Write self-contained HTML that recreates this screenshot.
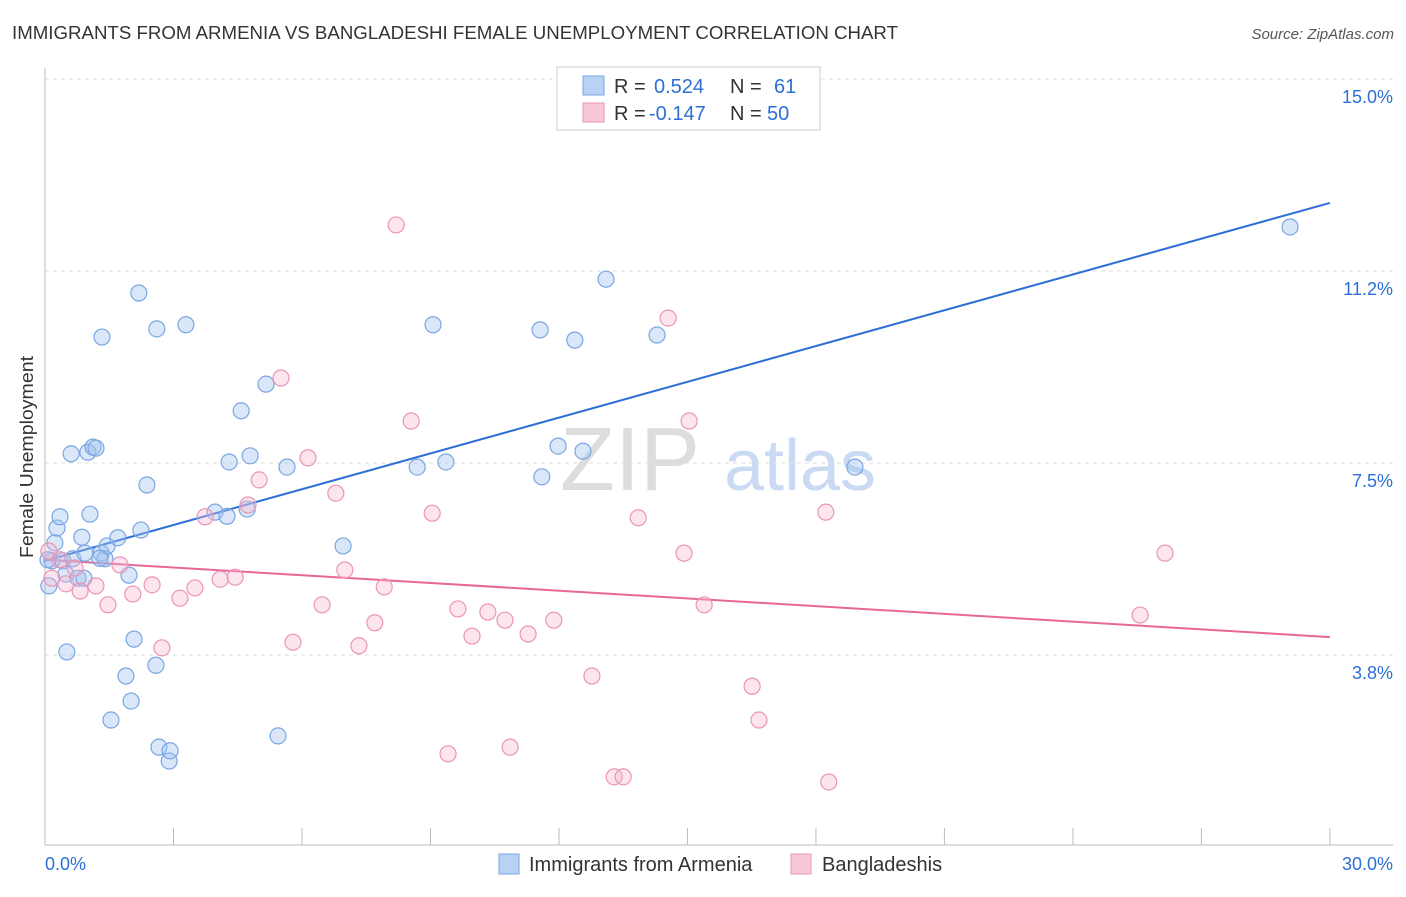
<!DOCTYPE html>
<html><head><meta charset="utf-8"><style>
body{margin:0;background:#fff;font-family:"Liberation Sans",sans-serif;}
svg text{font-family:"Liberation Sans",sans-serif;}
</style></head><body>
<svg id="chart" width="1406" height="892" xmlns="http://www.w3.org/2000/svg">
<text x="12" y="39" font-size="18" fill="#333" textLength="886" lengthAdjust="spacingAndGlyphs">IMMIGRANTS FROM ARMENIA VS BANGLADESHI FEMALE UNEMPLOYMENT CORRELATION CHART</text>
<text x="1394" y="39" font-size="15" fill="#555" font-style="italic" text-anchor="end">Source: ZipAtlas.com</text>
<text transform="translate(33,457) rotate(-90)" font-size="18" fill="#333" text-anchor="middle" textLength="202" lengthAdjust="spacingAndGlyphs">Female Unemployment</text>
<g><text x="630" y="490" font-size="90" fill="#ddd" font-family="Liberation Serif" text-anchor="middle">ZIP</text><text x="800" y="490" font-size="72" fill="#c9daf2" text-anchor="middle">atlas</text></g>
<g id="grid"></g><g id="axes"></g><g id="trend"></g><g id="pts"></g>
<g>
<rect x="557" y="67" width="263" height="63" fill="#fff" stroke="#ccc"/>
<rect x="583" y="76" width="21" height="19" fill="#b8d2f5" stroke="#7aa6e3"/>
<rect x="583" y="103" width="21" height="19" fill="#f9c8d8" stroke="#eb94b4"/>
<text x="614" y="93" font-size="20" fill="#333">R =</text><text x="654" y="93" font-size="20" fill="#2d6fd6">0.524</text>
<text x="730" y="93" font-size="20" fill="#333">N =</text><text x="774" y="93" font-size="20" fill="#2d6fd6">61</text>
<text x="614" y="120" font-size="20" fill="#333">R =</text><text x="649" y="120" font-size="20" fill="#2d6fd6">-0.147</text>
<text x="730" y="120" font-size="20" fill="#333">N =</text><text x="767" y="120" font-size="20" fill="#2d6fd6">50</text>
</g>
<g>
<rect x="499" y="854" width="20" height="20" fill="#b8d2f5" stroke="#7aa6e3"/>
<text x="529" y="871" font-size="20" fill="#333">Immigrants from Armenia</text>
<rect x="791" y="854" width="20" height="20" fill="#f9c8d8" stroke="#eb94b4"/>
<text x="822" y="871" font-size="20" fill="#333">Bangladeshis</text>
</g>
</svg>
<script>
const blueX=[0.09,0.16,0.23,0.28,0.35,0.42,0.49,0.51,0.61,0.65,0.77,0.86,0.91,0.93,1.00,1.05,1.12,1.19,1.31,1.33,1.40,1.45,1.54,1.70,1.89,1.96,2.01,2.08,2.19,2.24,2.38,2.59,2.61,2.66,2.90,2.92,3.29,3.97,4.25,4.30,4.58,4.72,4.79,5.16,5.44,5.65,6.96,8.69,9.06,9.36,11.56,11.60,11.98,12.37,12.56,13.10,14.29,18.91,29.07,0.07,1.28];
const blueY=[5.10,5.59,5.94,6.23,6.45,5.59,5.33,3.81,7.68,5.63,5.25,6.05,5.25,5.74,7.71,6.50,7.81,7.79,5.74,9.96,5.63,5.88,2.48,6.04,3.34,5.31,2.85,4.06,10.82,6.19,7.07,3.55,10.12,1.95,1.68,1.88,10.20,6.54,6.46,7.52,8.52,6.60,7.64,9.04,2.17,7.42,5.88,7.42,10.20,7.52,10.10,7.23,7.83,9.90,7.73,11.09,10.00,7.42,12.11,5.61,5.64];
const pinkX=[0.09,0.16,0.35,0.49,0.70,0.82,1.19,1.47,1.75,2.05,2.50,2.73,3.15,3.50,3.74,4.09,4.44,4.74,5.00,5.51,5.79,6.14,6.47,6.79,7.00,7.33,7.70,7.92,8.20,8.55,9.04,9.41,9.64,9.97,10.34,10.74,10.86,11.28,11.88,12.77,13.29,13.50,13.85,14.55,14.92,15.04,15.39,16.51,16.67,18.23,18.30,25.57,26.15];
const pinkY=[5.78,5.25,5.61,5.14,5.45,5.00,5.10,4.73,5.51,4.94,5.12,3.89,4.86,5.06,6.45,5.23,5.27,6.68,7.17,9.16,4.00,7.60,4.73,6.91,5.41,3.93,4.38,5.08,12.15,8.32,6.52,1.82,4.65,4.12,4.59,4.43,1.95,4.16,4.43,3.34,1.37,1.37,6.43,10.33,5.74,8.32,4.73,3.14,2.48,6.54,1.27,4.53,5.74];
const blueTrend=[5.59,12.58];
const pinkTrend=[5.61,4.10];
const yTicks=[15.0,11.25,7.5,3.75];
const yTickLabels=["15.0%","11.2%","7.5%","3.8%"];
const xTicks=[0,3,6,9,12,15,18,21,24,27,30];
const NS="http://www.w3.org/2000/svg";
const sx=v=>45+v*42.83, sy=v=>847-v*51.2;
function mk(t,a,p){const e=document.createElementNS(NS,t);for(const k in a)e.setAttribute(k,a[k]);document.getElementById(p).appendChild(e);return e;}
yTicks.forEach((v,i)=>{
 const l=mk('line',{x1:45,x2:1393,y1:sy(v),y2:sy(v),stroke:'#ddd','stroke-dasharray':'4,4'},'grid');
 
 
 const t=mk('text',{x:1393,y:sy(v)+24,'font-size':18,fill:'#2d6fd6','text-anchor':'end'},'grid');
 t.textContent=yTickLabels[i];
 
 
});
let a=mk('line',{x1:45,x2:45,y1:68,y2:845,stroke:'#bbb'},'axes');


a=mk('line',{x1:45,x2:1393,y1:845,y2:845,stroke:'#bbb'},'axes');


xTicks.forEach(v=>{const l=mk('line',{x1:sx(v),x2:sx(v),y1:828,y2:845,stroke:'#bbb'},'axes');
 
 });
let t=mk('text',{x:45,y:870,'font-size':18,fill:'#2d6fd6'},'axes');t.textContent='0.0%';


t=mk('text',{x:1393,y:870,'font-size':18,fill:'#2d6fd6','text-anchor':'end'},'axes');t.textContent='30.0%';


blueX.forEach((x,i)=>{const c=mk('circle',{cx:sx(x),cy:sy(blueY[i]),r:8,fill:'rgba(160,195,240,0.4)',stroke:'#7aa6e3','stroke-width':1.2},'pts');
 
 });
pinkX.forEach((x,i)=>{const c=mk('circle',{cx:sx(x),cy:sy(pinkY[i]),r:8,fill:'rgba(245,180,205,0.35)',stroke:'#eb94b4','stroke-width':1.2},'pts');
 
 });
let l=mk('line',{x1:sx(0),x2:sx(30),y1:sy(blueTrend[0]),y2:sy(blueTrend[1]),stroke:'#2d6fd6','stroke-width':2},'trend');


l=mk('line',{x1:sx(0),x2:sx(30),y1:sy(pinkTrend[0]),y2:sy(pinkTrend[1]),stroke:'#e8679a','stroke-width':2},'trend');


</script>
</body></html>
